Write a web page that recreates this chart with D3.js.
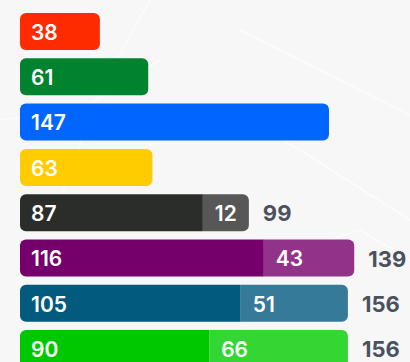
<!DOCTYPE html>
<html>
<head>
<meta charset="utf-8">
<script src="https://cdn.jsdelivr.net/npm/d3@7"></script>
<style>
  html, body { margin: 0; padding: 0; background: #f7f7f7; }
  svg { display: block; }
</style>
</head>
<body>
<svg id="chart" width="410" height="362"></svg>
<script>
// Row keys (not shown), first-segment values, second-segment values, total labels
const categories = ["r1", "r2", "r3", "r4", "r5", "r6", "r7", "r8"];
const mainValues = [38, 61, 147, 63, 87, 116, 105, 90];
const extraValues = [0, 0, 0, 0, 12, 43, 51, 66];
const totalLabels = ["", "", "", "", "99", "139", "156", "156"];
const mainColors = ["#ff2b00", "#00822e", "#0066ff", "#ffcc00", "#2b2d2b", "#76006b", "#025a7f", "#00c800"];
const extraColors = ["", "", "", "", "#575757", "#92338a", "#357a98", "#33d633"];

const W = 410, H = 362;
const left = 20;
const minSegW = 46;      // a segment never gets narrower than its label needs
const radius = 6;

const svg = d3.select("#chart");

// faint background texture
const bg = svg.append("g").attr("fill", "none").attr("stroke", "#fcfcfc").attr("stroke-width", 1.5);
[
  [[150, 0], [100, 90], [60, 200]],
  [[240, 30], [300, 60], [420, 120]],
  [[230, 110], [300, 150], [410, 220]],
  [[0, 120], [80, 110], [160, 60]],
  [[300, 250], [360, 230], [410, 260]]
].forEach(pts => bg.append("path").attr("d", d3.line()(pts)));

const x = d3.scaleLinear().domain([0, 100]).range([0, 210.2]);
const y = d3.scaleBand()
  .domain(categories)
  .range([13, 367.1])
  .paddingInner(0.183)
  .paddingOuter(0);

// path for a rect with selectable rounded corners
function roundedRect(x0, y0, w, h, r, roundLeft, roundRight) {
  const p = d3.path();
  const rl = roundLeft ? r : 0, rr = roundRight ? r : 0;
  p.moveTo(x0 + rl, y0);
  p.lineTo(x0 + w - rr, y0);
  if (rr) p.arcTo(x0 + w, y0, x0 + w, y0 + rr, rr);
  p.lineTo(x0 + w, y0 + h - rr);
  if (rr) p.arcTo(x0 + w, y0 + h, x0 + w - rr, y0 + h, rr);
  p.lineTo(x0 + rl, y0 + h);
  if (rl) p.arcTo(x0, y0 + h, x0, y0 + h - rl, rl);
  p.lineTo(x0, y0 + rl);
  if (rl) p.arcTo(x0, y0, x0 + rl, y0, rl);
  p.closePath();
  return p.toString();
}

const rows = categories.map((c, i) => ({
  key: c,
  main: mainValues[i],
  extra: extraValues[i],
  total: totalLabels[i],
  c1: mainColors[i],
  c2: extraColors[i]
}));

const font = "Inter, 'Open Sans', sans-serif";

const g = svg.append("g");
rows.forEach(d => {
  const y0 = y(d.key), h = y.bandwidth();
  const w1 = x(d.main);
  const hasExtra = d.extra > 0;
  const row = g.append("g");
  row.append("path")
    .attr("d", roundedRect(left, y0, w1, h, radius, true, !hasExtra))
    .attr("fill", d.c1);
  row.append("text")
    .attr("x", left + 11)
    .attr("y", y0 + h / 2 + 1)
    .attr("dy", "0.35em")
    .attr("fill", "#ffffff")
    .attr("font-family", font)
    .attr("font-weight", 600)
    .attr("font-size", 21)
    .text(d.main);
  let end = left + w1;
  if (hasExtra) {
    const w2 = Math.max(x(d.extra), minSegW);
    row.append("path")
      .attr("d", roundedRect(end, y0, w2, h, radius, false, true))
      .attr("fill", d.c2);
    row.append("text")
      .attr("x", end + 12)
      .attr("y", y0 + h / 2 + 1)
      .attr("dy", "0.35em")
      .attr("fill", "#ffffff")
      .attr("font-family", font)
      .attr("font-weight", 600)
      .attr("font-size", 21)
      .text(d.extra);
    end += w2;
  }
  if (d.total) {
    row.append("text")
      .attr("x", end + 14)
      .attr("y", y0 + h / 2 + 1)
      .attr("dy", "0.35em")
      .attr("fill", "#4a5260")
      .attr("font-family", font)
      .attr("font-weight", 700)
      .attr("font-size", 22)
      .text(d.total);
  }
});
</script>
</body>
</html>
